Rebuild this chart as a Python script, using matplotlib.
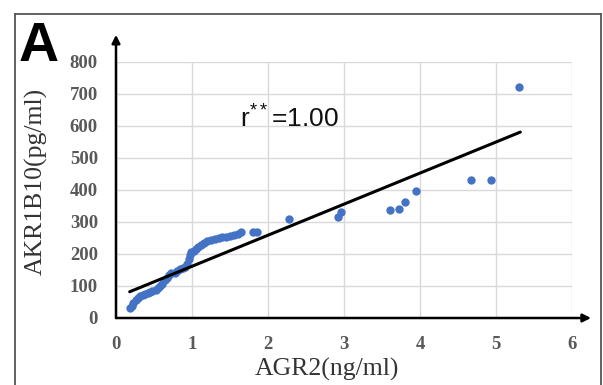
import matplotlib
matplotlib.use("Agg")
import matplotlib.pyplot as plt
from matplotlib.lines import Line2D

# ---- data ----
agr2 = [0.18, 0.21, 0.23, 0.26, 0.29, 0.32, 0.35, 0.38, 0.42, 0.45, 0.48, 0.52,
        0.55, 0.58, 0.61, 0.64, 0.67, 0.70, 0.73, 0.77, 0.80, 0.84, 0.88, 0.91,
        0.94, 0.96, 0.97, 0.99, 1.02, 1.05, 1.08, 1.12, 1.16, 1.20, 1.25, 1.30,
        1.35, 1.40, 1.45, 1.50, 1.55, 1.60, 1.65, 1.80, 1.86, 2.28, 2.92, 2.96,
        3.61, 3.72, 3.80, 3.95, 4.67, 4.93, 5.30]
akr1b10 = [30, 38, 46, 55, 61, 68, 72, 74, 78, 80, 84, 88,
           94, 100, 106, 118, 126, 134, 140, 142, 148, 152, 156, 160,
           170, 185, 197, 205, 210, 215, 222, 228, 234, 240, 244, 247,
           250, 252, 254, 256, 260, 264, 268, 270, 270, 309, 315, 331,
           338, 341, 363, 397, 431, 431, 722]
fit_x = [0.18, 5.32]
fit_y = [82, 581]
x_ticks = [0, 1, 2, 3, 4, 5, 6]
y_ticks = [0, 100, 200, 300, 400, 500, 600, 700, 800]
annot = r"r$^{**}$=1.00"
panel = "A"
x_label = "AGR2(ng/ml)"
y_label = "AKR1B10(pg/ml)"

plt.rcParams['mathtext.fontset'] = 'custom'
plt.rcParams['mathtext.rm'] = 'Liberation Sans'
plt.rcParams['mathtext.default'] = 'regular'

W, H = 603, 385
fig = plt.figure(figsize=(W / 100, H / 100), dpi=100)
fig.patch.set_facecolor("white")

ax = fig.add_axes([116 / W, (H - 318) / H, 456 / W, 256 / H])
ax.set_xlim(0, 6)
ax.set_ylim(0, 800)
for s in ax.spines.values():
    s.set_visible(False)

ax.set_xticks(x_ticks)
ax.set_yticks(y_ticks)
ax.grid(True, color="#d9d9d9", linewidth=1.0, zorder=0)
ax.tick_params(length=0, pad=13, labelsize=13.5, labelcolor="#595959")
for lab in ax.get_xticklabels() + ax.get_yticklabels():
    lab.set_fontfamily("Liberation Serif")
    lab.set_fontweight("bold")

ax.scatter(agr2, akr1b10, s=36, color="#4472C4", zorder=3, linewidths=0)
ax.plot(fit_x, fit_y, color="black", linewidth=2.2, zorder=4, solid_capstyle="round")

# axis arrows
ax.annotate("", xy=(0, 885), xytext=(0, 0), xycoords="data", annotation_clip=False,
            arrowprops=dict(arrowstyle="-|>", color="black", lw=1.8,
                            mutation_scale=12, shrinkA=0, shrinkB=0), zorder=5)
ax.annotate("", xy=(6.25, 0), xytext=(0, 0), xycoords="data", annotation_clip=False,
            arrowprops=dict(arrowstyle="-|>", color="black", lw=1.8,
                            mutation_scale=12, shrinkA=0, shrinkB=0), zorder=5)

ax.text(240 / W, (H - 119) / H, annot, transform=fig.transFigure, fontsize=19,
        family="Liberation Sans", color="#111111", ha="left", va="center")

fig.text(36 / W, (H - 181) / H, y_label, rotation=90, fontsize=18.5,
         family="Liberation Serif", color="#333333", ha="center", va="center")
fig.text(327 / W, (H - 369) / H, x_label, fontsize=18.5,
         family="Liberation Serif", color="#333333", ha="center", va="center")

fig.text(39 / W, (H - 47) / H, panel, fontsize=40, family="Liberation Sans",
         fontweight="bold", color="black", ha="center", va="center")

# outer frame (open at bottom)
frame_kw = dict(color="#555555", linewidth=1.3, transform=fig.transFigure)
fig.add_artist(Line2D([15 / W, 15 / W], [0, (H - 14) / H], **frame_kw))
fig.add_artist(Line2D([15 / W, 601 / W], [(H - 14) / H, (H - 14) / H], **frame_kw))
fig.add_artist(Line2D([601 / W, 601 / W], [(H - 14) / H, 0], **frame_kw))

fig.savefig("out.png", dpi=100)
